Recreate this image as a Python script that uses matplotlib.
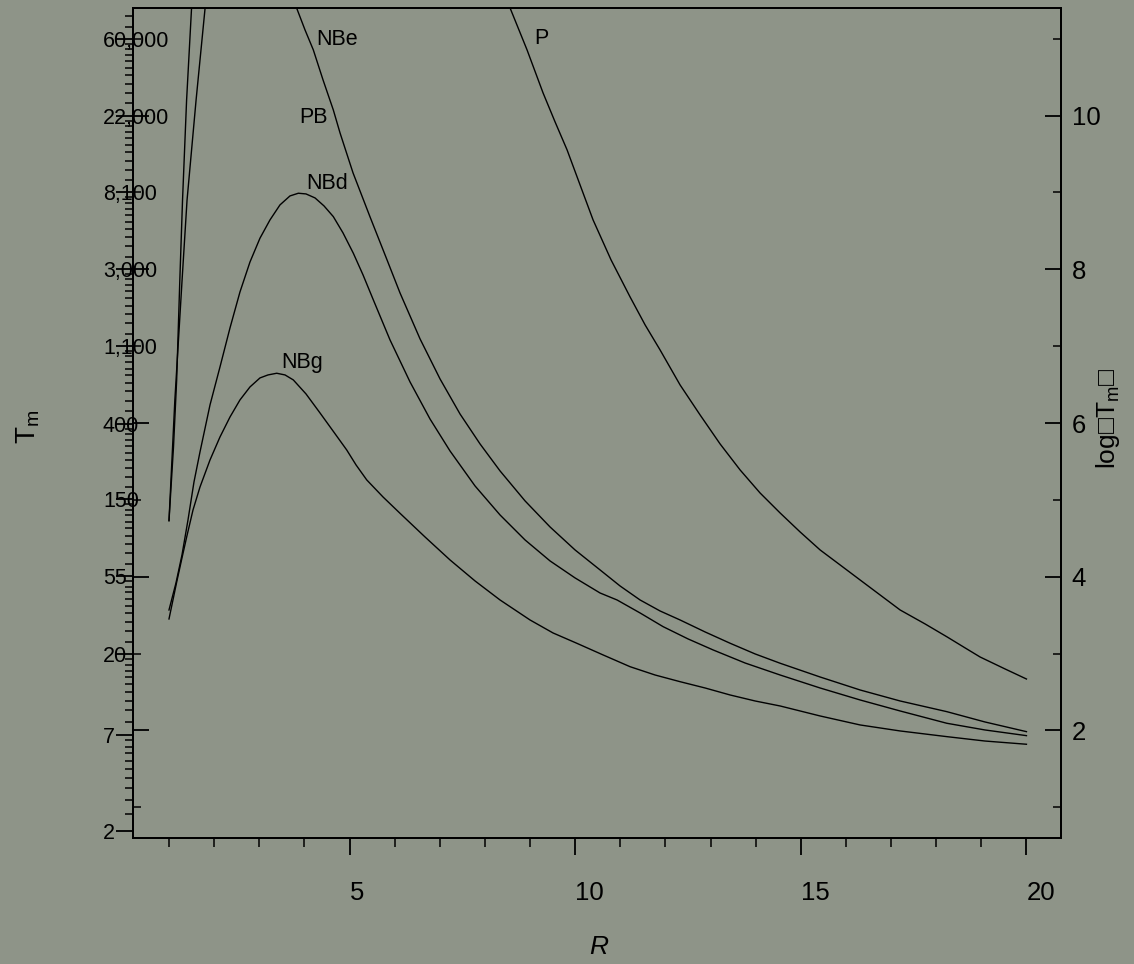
import numpy as np
import matplotlib
matplotlib.use("Agg")
import matplotlib.pyplot as plt
from matplotlib.ticker import FixedLocator, NullFormatter

plt.rcParams['font.family'] = ['Liberation Sans', 'DejaVu Sans']
plt.rcParams['mathtext.default'] = 'regular'

# curves: R values and log(T_m) values
r_p = [8.36, 8.558, 8.934, 9.289, 9.555, 9.821, 10.109, 10.397, 10.796, 11.217, 11.550, 11.882, 12.325,
       12.768, 13.212, 13.655, 14.098, 14.542, 14.985, 15.428, 15.871, 16.315, 16.758, 17.201, 17.755,
       18.243, 18.642, 18.974, 19.528, 20.0]
lt_p = [11.7, 11.40, 10.855, 10.295, 9.918, 9.554, 9.098, 8.643, 8.122, 7.641, 7.277, 6.951, 6.496,
        6.106, 5.728, 5.390, 5.090, 4.830, 4.583, 4.349, 4.154, 3.958, 3.763, 3.568, 3.386,
        3.217, 3.074, 2.956, 2.800, 2.670]

r_pb = [3.63, 3.830, 4.014, 4.198, 4.413, 4.641, 4.790, 5.078, 5.455, 5.832, 6.119, 6.563, 7.006, 7.449,
        7.893, 8.336, 8.890, 9.444, 9.998, 10.552, 10.996, 11.439, 11.882, 12.325, 12.880, 13.434,
        13.988, 14.542, 15.428, 16.315, 17.201, 18.236, 19.080, 20.0]
lt_pb = [11.7, 11.397, 11.115, 10.855, 10.465, 10.074, 9.775, 9.255, 8.682, 8.122, 7.693, 7.095, 6.574, 6.118,
         5.728, 5.377, 4.987, 4.648, 4.349, 4.089, 3.880, 3.698, 3.555, 3.438, 3.282, 3.135,
         2.996, 2.875, 2.696, 2.527, 2.384, 2.245, 2.111, 1.985]

r_nbd = [1.0, 1.155, 1.288, 1.421, 1.554, 1.687, 1.909, 2.130, 2.352, 2.573, 2.795, 3.016, 3.238, 3.459,
         3.681, 3.866, 4.036, 4.236, 4.435, 4.641, 4.856, 5.085, 5.300, 5.528, 5.898, 6.341, 6.784,
         7.227, 7.781, 8.336, 8.890, 9.444, 9.998, 10.552, 10.929, 11.439, 11.949, 12.503, 13.057,
         13.766, 14.542, 15.428, 16.315, 17.201, 18.236, 19.080, 20.0]
lt_nbd = [3.568, 3.920, 4.284, 4.739, 5.234, 5.624, 6.236, 6.730, 7.238, 7.706, 8.096, 8.405, 8.643, 8.838,
          8.955, 8.990, 8.981, 8.929, 8.825, 8.686, 8.474, 8.209, 7.927, 7.602, 7.081, 6.535, 6.053,
          5.637, 5.182, 4.804, 4.479, 4.206, 3.985, 3.789, 3.698, 3.529, 3.351, 3.191, 3.048,
          2.878, 2.722, 2.553, 2.397, 2.254, 2.094, 2.007, 1.933]

r_nbg = [1.0, 1.171, 1.288, 1.392, 1.532, 1.687, 1.909, 2.130, 2.352, 2.573, 2.795, 3.016, 3.194, 3.387,
         3.571, 3.755, 4.036, 4.347, 4.635, 4.938, 5.145, 5.382, 5.743, 6.119, 6.673, 7.227, 7.781,
         8.336, 9.000, 9.510, 10.036, 10.619, 11.217, 11.771, 12.325, 12.880, 13.434, 13.988, 14.542,
         15.428, 16.315, 17.201, 18.236, 19.080, 20.0]
lt_nbg = [3.451, 3.932, 4.245, 4.518, 4.869, 5.168, 5.520, 5.819, 6.079, 6.301, 6.470, 6.587, 6.626, 6.648,
          6.626, 6.561, 6.379, 6.131, 5.897, 5.650, 5.455, 5.260, 5.038, 4.826, 4.518, 4.219, 3.946,
          3.698, 3.438, 3.269, 3.135, 2.983, 2.830, 2.722, 2.635, 2.553, 2.462, 2.384, 2.319,
          2.189, 2.072, 1.994, 1.920, 1.863, 1.821]

r_s1 = [1.0, 1.10, 1.17, 1.24, 1.30, 1.39, 1.50, 1.52]
lt_s1 = [4.73, 5.69, 6.56, 7.86, 8.90, 10.20, 11.40, 11.7]

r_s2 = [1.0, 1.13, 1.29, 1.40, 1.60, 1.80, 1.84]
lt_s2 = [4.73, 6.30, 7.86, 8.90, 10.20, 11.40, 11.7]

# curve labels
curve_names = ['NBe', 'PB', 'NBd', 'NBg', 'P']
name_r = [4.27, 3.88, 4.05, 3.48, 9.09]
name_lt = [10.99, 9.98, 9.12, 6.79, 11.0]

# axis labels
t_labels = [2, 7, 20, 55, 150, 400, 1100, 3000, 8100, 22000, 60000]
x_major = [5, 10, 15, 20]
x_minor = list(range(1, 21))
log_major = [2, 4, 6, 8, 10]
log_minor = [1, 3, 5, 7, 9, 11]

bg = '#8e9488'
fig = plt.figure(figsize=(11.34, 9.64), dpi=100, facecolor=bg)
ax = fig.add_axes([0.1177, 0.1310, 0.8177, 0.8607])
ax.set_facecolor(bg)

for r, lt in [(r_p, lt_p), (r_pb, lt_pb), (r_nbd, lt_nbd), (r_nbg, lt_nbg), (r_s1, lt_s1), (r_s2, lt_s2)]:
    ax.plot(r, lt, color='black', lw=1.0)

for name, r, lt in zip(curve_names, name_r, name_lt):
    ax.text(r, lt, name, fontsize=15.5, ha='left', va='center')

ax.set_xlim(0.213, 20.76)
ax.set_ylim(0.605, 11.40)

# bottom axis
ax.xaxis.set_major_locator(FixedLocator(x_major))
ax.xaxis.set_minor_locator(FixedLocator(x_minor))
ax.tick_params(axis='x', which='major', direction='out', length=12.2, width=1.3, labelsize=18.5, pad=19)
ax.tick_params(axis='x', which='minor', direction='out', length=6.5, width=1.1)
for t in ax.get_xticklabels():
    t.set_ha('left')

# left axis: T_m labels at log positions
t_minor = []
for a, b in zip(t_labels[:-1], t_labels[1:]):
    t_minor += list(np.linspace(a, b, 11)[1:-1])
t_minor += list(np.linspace(60000, 160000, 11)[1:])
ax.yaxis.set_major_locator(FixedLocator(np.log(t_labels)))
ax.yaxis.set_minor_locator(FixedLocator(np.log(t_minor)))
ax.set_yticklabels([f'{v:,}' for v in t_labels])
ax.yaxis.set_minor_formatter(NullFormatter())
ax.tick_params(axis='y', which='major', direction='out', length=12.2, width=1.3, labelsize=15.5, pad=9.8)
ax.tick_params(axis='y', which='minor', direction='out', length=5.8, width=1.1)
for t in ax.get_yticklabels():
    t.set_ha('left')

# right axis: log T_m
ax2 = ax.twinx()
ax2.set_ylim(ax.get_ylim())
ax2.yaxis.set_major_locator(FixedLocator(log_major))
ax2.yaxis.set_minor_locator(FixedLocator(log_minor))
ax2.yaxis.set_minor_formatter(NullFormatter())
ax2.tick_params(axis='y', which='major', direction='in', length=11.5, width=1.3, labelsize=18.5, pad=8,
                left=True, right=True, labelleft=False, labelright=True)
ax2.tick_params(axis='y', which='minor', direction='in', length=5.8, width=1.1, left=True, right=True)

for a in (ax, ax2):
    for s in a.spines.values():
        s.set_linewidth(1.4)

fig.text(28 / 1134, 1 - 427 / 964, 'T$_{m}$', rotation=90, fontsize=20, ha='center', va='center')
fig.text(1108 / 1134, 1 - 418 / 964, 'log\u25a1T$_{m}$\u25a1', rotation=90, fontsize=19, ha='center', va='center')
fig.text(599 / 1134, 1 - 947 / 964, 'R', fontsize=19, style='italic', ha='center', va='center')

fig.savefig('out.png', dpi=100, facecolor=bg)
